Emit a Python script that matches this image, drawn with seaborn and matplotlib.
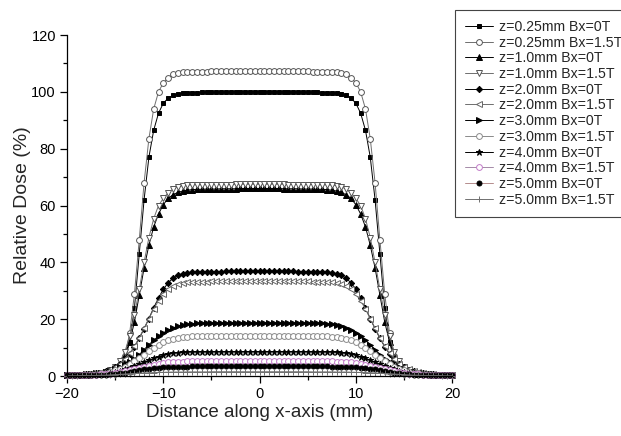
import matplotlib
matplotlib.use('Agg')
import matplotlib.pyplot as plt
import seaborn as sns
from matplotlib.ticker import MultipleLocator

sns.set_theme(style='ticks')
plt.rcParams['font.family'] = ['Liberation Sans', 'DejaVu Sans']

x_mm = [-20, -19.5, -19, -18.5, -18, -17.5, -17, -16.5, -16, -15.5, -15, -14.5, -14, -13.5, -13, -12.5,
        -12, -11.5, -11, -10.5, -10, -9.5, -9, -8.5, -8, -7.5, -7, -6.5, -6, -5.5, -5, -4.5, -4, -3.5,
        -3, -2.5, -2, -1.5, -1, -0.5, 0, 0.5, 1, 1.5, 2, 2.5, 3, 3.5, 4, 4.5, 5, 5.5, 6, 6.5, 7, 7.5,
        8, 8.5, 9, 9.5, 10, 10.5, 11, 11.5, 12, 12.5, 13, 13.5, 14, 14.5, 15, 15.5, 16, 16.5, 17, 17.5,
        18, 18.5, 19, 19.5, 20]

labels = ['z=0.25mm Bx=0T', 'z=0.25mm Bx=1.5T', 'z=1.0mm Bx=0T', 'z=1.0mm Bx=1.5T',
          'z=2.0mm Bx=0T', 'z=2.0mm Bx=1.5T', 'z=3.0mm Bx=0T', 'z=3.0mm Bx=1.5T',
          'z=4.0mm Bx=0T', 'z=4.0mm Bx=1.5T', 'z=5.0mm Bx=0T', 'z=5.0mm Bx=1.5T']

z025_0T = [0.3, 0.3, 0.3, 0.4, 0.4, 0.5, 0.6, 0.7, 0.9, 1.2, 1.7, 2.8, 5.5, 12, 24, 43, 62, 77, 86.5, 92.5,
           96, 97.8, 98.8, 99.3, 99.5, 99.6, 99.7, 99.7, 99.8, 99.8, 99.8, 99.9, 99.9, 99.9, 99.9, 100, 100,
           100, 100, 100, 100,
           100, 100, 100, 100, 100, 99.9, 99.9, 99.9, 99.9, 99.8, 99.8, 99.8, 99.7, 99.7, 99.6, 99.5, 99.3,
           98.8, 97.8, 96, 92.5, 86.5, 77, 62, 43, 24, 12, 5.5, 2.8, 1.7, 1.2, 0.9, 0.7, 0.6, 0.5, 0.4, 0.4,
           0.3, 0.3, 0.3]
z025_15T = [0.3, 0.3, 0.3, 0.4, 0.4, 0.5, 0.6, 0.7, 1.0, 1.4, 2.0, 3.5, 7, 15, 29, 48, 68, 83.5, 94, 100,
            103.2, 105, 106.2, 106.7, 106.9, 107, 107, 107.1, 107.1, 107.1, 107.2, 107.2, 107.2, 107.2, 107.2,
            107.3, 107.3, 107.3, 107.3, 107.3, 107.3,
            107.3, 107.3, 107.3, 107.3, 107.3, 107.2, 107.2, 107.2, 107.2, 107.2, 107.1, 107.1, 107.1, 107,
            107, 106.9, 106.7, 106.2, 105, 103.2, 100, 94, 83.5, 68, 48, 29, 15, 7, 3.5, 2.0, 1.4, 1.0, 0.7,
            0.6, 0.5, 0.4, 0.4, 0.3, 0.3, 0.3]
z10_0T = [0.3, 0.3, 0.4, 0.4, 0.5, 0.6, 0.8, 1.0, 1.4, 2.0, 3.0, 4.8, 7.5, 12, 19, 28.5, 38, 46, 52.5, 57,
          60.3, 62.5, 63.8, 64.6, 65.1, 65.4, 65.6, 65.7, 65.7, 65.8, 65.8, 65.8, 65.9, 65.9, 65.9, 65.9, 66,
          66, 66, 66, 66,
          66, 66, 66, 66, 65.9, 65.9, 65.9, 65.9, 65.8, 65.8, 65.8, 65.7, 65.7, 65.6, 65.4, 65.1, 64.6, 63.8,
          62.5, 60.3, 57, 52.5, 46, 38, 28.5, 19, 12, 7.5, 4.8, 3.0, 2.0, 1.4, 1.0, 0.8, 0.6, 0.5, 0.4, 0.4,
          0.3, 0.3]
z10_15T = [0.3, 0.3, 0.4, 0.4, 0.5, 0.6, 0.8, 1.1, 1.5, 2.2, 3.2, 5.2, 8.5, 14, 21.5, 30.5, 40, 48.7, 55.4,
           60, 62.5, 64.5, 65.8, 66.6, 67.0, 67.2, 67.3, 67.3, 67.3, 67.4, 67.4, 67.4, 67.4, 67.4, 67.4, 67.5,
           67.5, 67.5, 67.5, 67.5, 67.5,
           67.5, 67.5, 67.5, 67.5, 67.5, 67.4, 67.4, 67.4, 67.4, 67.4, 67.4, 67.3, 67.3, 67.3, 67.2, 67.0,
           66.6, 65.8, 64.5, 62.5, 60, 55.4, 48.7, 40, 30.5, 21.5, 14, 8.5, 5.2, 3.2, 2.2, 1.5, 1.1, 0.8,
           0.6, 0.5, 0.4, 0.4, 0.3, 0.3]
z20_0T = [0.3, 0.3, 0.4, 0.5, 0.6, 0.7, 0.9, 1.2, 1.6, 2.2, 3.0, 4.2, 5.8, 7.8, 10.3, 13.3, 16.6, 20.2, 24,
          27.5, 30.5, 32.8, 34.4, 35.4, 36.0, 36.3, 36.5, 36.6, 36.6, 36.7, 36.7, 36.7, 36.7, 36.8, 36.8,
          36.8, 36.8, 36.8, 36.8, 36.8, 36.8,
          36.8, 36.8, 36.8, 36.8, 36.8, 36.8, 36.8, 36.7, 36.7, 36.7, 36.7, 36.6, 36.6, 36.5, 36.3, 36.0,
          35.4, 34.4, 32.8, 30.5, 27.5, 24, 20.2, 16.6, 13.3, 10.3, 7.8, 5.8, 4.2, 3.0, 2.2, 1.6, 1.2, 0.9,
          0.7, 0.6, 0.5, 0.4, 0.3, 0.3]
z20_15T = [0.3, 0.3, 0.4, 0.5, 0.6, 0.8, 1.0, 1.3, 1.7, 2.4, 3.2, 4.4, 6.0, 8.0, 10.5, 13.5, 16.8, 20.2,
           23.6, 26.5, 28.8, 30.5, 31.6, 32.3, 32.7, 33.0, 33.1, 33.2, 33.2, 33.2, 33.3, 33.3, 33.3, 33.3,
           33.3, 33.3, 33.3, 33.3, 33.3, 33.3, 33.3,
           33.3, 33.3, 33.3, 33.3, 33.3, 33.3, 33.3, 33.3, 33.3, 33.3, 33.2, 33.2, 33.2, 33.1, 33.0, 32.7,
           32.3, 31.6, 30.5, 28.8, 26.5, 23.6, 20.2, 16.8, 13.5, 10.5, 8.0, 6.0, 4.4, 3.2, 2.4, 1.7, 1.3,
           1.0, 0.8, 0.6, 0.5, 0.4, 0.3, 0.3]
z30_0T = [0.3, 0.3, 0.4, 0.5, 0.6, 0.7, 0.9, 1.1, 1.4, 1.8, 2.3, 3.0, 3.8, 4.8, 6.0, 7.5, 9.3, 11.0, 12.6,
          14.0, 15.2, 16.1, 16.9, 17.5, 17.9, 18.2, 18.4, 18.5, 18.5, 18.6, 18.6, 18.6, 18.6, 18.6, 18.6,
          18.6, 18.6, 18.6, 18.6, 18.6, 18.6,
          18.6, 18.6, 18.6, 18.6, 18.6, 18.6, 18.6, 18.6, 18.6, 18.6, 18.6, 18.5, 18.5, 18.4, 18.2, 17.9,
          17.5, 16.9, 16.1, 15.2, 14.0, 12.6, 11.0, 9.3, 7.5, 6.0, 4.8, 3.8, 3.0, 2.3, 1.8, 1.4, 1.1, 0.9,
          0.7, 0.6, 0.5, 0.4, 0.3, 0.3]
z30_15T = [0.3, 0.3, 0.4, 0.4, 0.5, 0.6, 0.7, 0.9, 1.1, 1.5, 2.0, 2.6, 3.3, 4.2, 5.2, 6.3, 7.5, 8.7, 9.9,
           10.9, 11.8, 12.5, 13.0, 13.4, 13.7, 13.9, 14.0, 14.1, 14.1, 14.1, 14.2, 14.2, 14.2, 14.2, 14.2,
           14.2, 14.2, 14.2, 14.2, 14.2, 14.2,
           14.2, 14.2, 14.2, 14.2, 14.2, 14.2, 14.2, 14.2, 14.2, 14.2, 14.1, 14.1, 14.1, 14.0, 13.9, 13.7,
           13.4, 13.0, 12.5, 11.8, 10.9, 9.9, 8.7, 7.5, 6.3, 5.2, 4.2, 3.3, 2.6, 2.0, 1.5, 1.1, 0.9, 0.7,
           0.6, 0.5, 0.4, 0.4, 0.3, 0.3]
z40_0T = [0.3, 0.3, 0.3, 0.4, 0.5, 0.6, 0.7, 0.8, 0.9, 1.2, 1.5, 1.9, 2.4, 2.9, 3.5, 4.2, 4.9, 5.6, 6.2,
          6.8, 7.3, 7.7, 8.0, 8.2, 8.35, 8.45, 8.5, 8.5, 8.55, 8.55, 8.6, 8.6, 8.6, 8.6, 8.6, 8.6, 8.6, 8.6,
          8.6, 8.6, 8.6,
          8.6, 8.6, 8.6, 8.6, 8.6, 8.6, 8.6, 8.6, 8.6, 8.6, 8.55, 8.55, 8.5, 8.5, 8.45, 8.35, 8.2, 8.0, 7.7,
          7.3, 6.8, 6.2, 5.6, 4.9, 4.2, 3.5, 2.9, 2.4, 1.9, 1.5, 1.2, 0.9, 0.8, 0.7, 0.6, 0.5, 0.4, 0.3,
          0.3, 0.3]
z40_15T = [0.2, 0.2, 0.3, 0.3, 0.4, 0.4, 0.5, 0.6, 0.7, 0.8, 1.0, 1.3, 1.6, 2.0, 2.4, 2.8, 3.2, 3.6, 4.0,
           4.3, 4.6, 4.8, 4.95, 5.05, 5.1, 5.15, 5.2, 5.2, 5.2, 5.2, 5.25, 5.25, 5.25, 5.25, 5.25, 5.25,
           5.25, 5.25, 5.25, 5.25, 5.25,
           5.25, 5.25, 5.25, 5.25, 5.25, 5.25, 5.25, 5.25, 5.25, 5.25, 5.2, 5.2, 5.2, 5.2, 5.15, 5.1, 5.05,
           4.95, 4.8, 4.6, 4.3, 4.0, 3.6, 3.2, 2.8, 2.4, 2.0, 1.6, 1.3, 1.0, 0.8, 0.7, 0.6, 0.5, 0.4, 0.4,
           0.3, 0.3, 0.2, 0.2]
z50_0T = [0.2, 0.2, 0.2, 0.3, 0.3, 0.3, 0.4, 0.5, 0.5, 0.6, 0.8, 1.0, 1.2, 1.5, 1.8, 2.0, 2.3, 2.5, 2.7,
          2.9, 3.0, 3.1, 3.2, 3.25, 3.3, 3.3, 3.35, 3.35, 3.35, 3.35, 3.4, 3.4, 3.4, 3.4, 3.4, 3.4, 3.4,
          3.4, 3.4, 3.4, 3.4,
          3.4, 3.4, 3.4, 3.4, 3.4, 3.4, 3.4, 3.4, 3.4, 3.4, 3.35, 3.35, 3.35, 3.35, 3.3, 3.3, 3.25, 3.2,
          3.1, 3.0, 2.9, 2.7, 2.5, 2.3, 2.0, 1.8, 1.5, 1.2, 1.0, 0.8, 0.6, 0.5, 0.5, 0.4, 0.3, 0.3, 0.3,
          0.2, 0.2, 0.2]
z50_15T = [0.1, 0.1, 0.1, 0.2, 0.2, 0.2, 0.2, 0.3, 0.3, 0.4, 0.5, 0.6, 0.7, 0.8, 0.9, 1.0, 1.1, 1.15, 1.2,
           1.25, 1.3, 1.35, 1.4, 1.4, 1.4, 1.45, 1.45, 1.45, 1.45, 1.45, 1.5, 1.5, 1.5, 1.5, 1.5, 1.5, 1.5,
           1.5, 1.5, 1.5, 1.5,
           1.5, 1.5, 1.5, 1.5, 1.5, 1.5, 1.5, 1.5, 1.5, 1.5, 1.45, 1.45, 1.45, 1.45, 1.45, 1.4, 1.4, 1.4,
           1.35, 1.3, 1.25, 1.2, 1.15, 1.1, 1.0, 0.9, 0.8, 0.7, 0.6, 0.5, 0.4, 0.3, 0.3, 0.2, 0.2, 0.2, 0.2,
           0.1, 0.1, 0.1]

series = [z025_0T, z025_15T, z10_0T, z10_15T, z20_0T, z20_15T,
          z30_0T, z30_15T, z40_0T, z40_15T, z50_0T, z50_15T]

K = 'black'
G = '#6e6e6e'
styles = [
    dict(marker='s', markersize=3.3, markerfacecolor=K, markeredgecolor=K, color=K),
    dict(marker='o', markersize=4.2, markerfacecolor='white', markeredgecolor='#555555', color=G),
    dict(marker='^', markersize=4.2, markerfacecolor=K, markeredgecolor=K, color=K),
    dict(marker='v', markersize=4.5, markerfacecolor='white', markeredgecolor='#555555', color=G),
    dict(marker='D', markersize=3.2, markerfacecolor=K, markeredgecolor=K, color=K),
    dict(marker='<', markersize=4.5, markerfacecolor='white', markeredgecolor='#666666', color=G),
    dict(marker='>', markersize=4.2, markerfacecolor=K, markeredgecolor=K, color=K),
    dict(marker='o', markersize=4.2, markerfacecolor='white', markeredgecolor='#8a8a8a', color='#8a8a8a'),
    dict(marker='*', markersize=4.8, markerfacecolor=K, markeredgecolor=K, color=K),
    dict(marker='o', markersize=4.2, markerfacecolor='white', markeredgecolor='#c27ac8', color='#a58aa8'),
    dict(marker='o', markersize=3.6, markerfacecolor=K, markeredgecolor=K, color='#b48c8c'),
    dict(marker='+', markersize=4.5, markerfacecolor=G, markeredgecolor='#707070', color='#707070'),
]

fig = plt.figure(figsize=(6.21, 4.36), dpi=100)
ax = fig.add_axes([0.108, 0.1376, 0.62, 0.782])

for lab, yv, st in zip(labels, series, styles):
    sns.lineplot(x=x_mm, y=yv, ax=ax, label=lab, estimator=None, sort=False,
                 linewidth=0.7, markeredgewidth=0.7, clip_on=False, **st)

ax.set_xlim(-20, 20)
ax.set_ylim(0, 120)
ax.set_xticks([-20, -10, 0, 10, 20])
ax.set_yticks([0, 20, 40, 60, 80, 100, 120])
ax.xaxis.set_minor_locator(MultipleLocator(5))
ax.yaxis.set_minor_locator(MultipleLocator(10))
ax.tick_params(which='major', direction='out', length=5, width=0.9, colors='black',
               labelsize=10.5, pad=3)
ax.tick_params(which='minor', direction='out', length=3, width=0.9, colors='black')
for s in ['top', 'right']:
    ax.spines[s].set_visible(False)
for s in ['left', 'bottom']:
    ax.spines[s].set_color('black')
    ax.spines[s].set_linewidth(0.9)

ax.set_xlabel('Distance along x-axis (mm)', fontsize=13.5, labelpad=2)
ax.set_ylabel('Relative Dose (%)', fontsize=14, labelpad=0)

handles, labs = ax.get_legend_handles_labels()
ax.get_legend().remove()
leg = fig.legend(handles, labs, loc='upper left', bbox_to_anchor=(455 / 621, 1 - 10 / 436),
                 bbox_transform=fig.transFigure, fontsize=10.2, frameon=True, fancybox=False,
                 edgecolor='#444444', framealpha=1, borderpad=0.7, labelspacing=0.12,
                 handlelength=2.0, handletextpad=0.4, borderaxespad=0)
leg.get_frame().set_linewidth(0.8)

fig.savefig('out.png', dpi=100)
